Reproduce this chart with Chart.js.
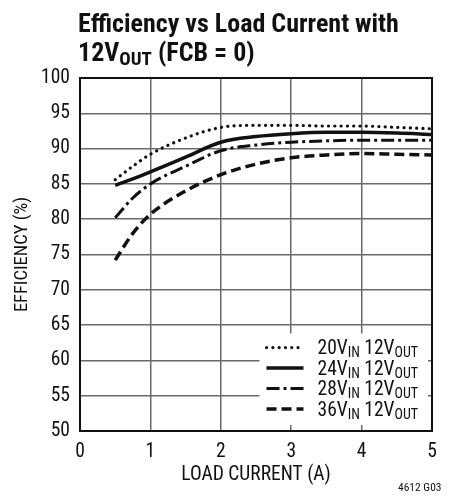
<!DOCTYPE html>
<html>
<head>
<meta charset="utf-8">
<script src="https://cdn.jsdelivr.net/npm/chart.js@4.4.1/dist/chart.umd.min.js"></script>
<style>
  html, body { margin: 0; padding: 0; background: #fff; }
  #wrap { position: relative; width: 450px; height: 496px; }
</style>
</head>
<body>
<div id="wrap"><canvas id="c" width="450" height="496"></canvas></div>
<script>
// ---- data ----
const loadCurrent = [0.5, 0.75, 1, 1.5, 2, 2.5, 3, 3.5, 4, 4.5, 5];
const eff20 = [85.6, 87.5, 89.2, 91.5, 93.0, 93.3, 93.3, 93.2, 93.2, 93.0, 92.8];
const eff24 = [84.8, 85.7, 86.7, 88.8, 90.9, 91.7, 92.1, 92.3, 92.3, 92.2, 92.0];
const eff28 = [80.2, 83.0, 85.0, 87.5, 89.7, 90.5, 90.9, 91.1, 91.2, 91.2, 91.2];
const eff36 = [74.2, 78.0, 80.7, 84.0, 86.3, 87.8, 88.7, 89.1, 89.3, 89.2, 89.1];
const seriesVin = ['20', '24', '28', '36'];
const xTicks = [0, 1, 2, 3, 4, 5];
const yTicks = [50, 55, 60, 65, 70, 75, 80, 85, 90, 95, 100];

const FONT = "'Liberation Sans Narrow', 'Roboto Condensed', 'DejaVu Sans Condensed', 'Liberation Sans', sans-serif";
const toPts = ys => loadCurrent.map((x, i) => ({ x: x, y: ys[i] }));

const styles = [
  { dash: [0.1, 6.2], width: 3.2, cap: 'round' },
  { dash: [], width: 3.5, cap: 'butt' },
  { dash: [13, 4, 3, 4], width: 3, cap: 'butt' },
  { dash: [10, 5], width: 3.5, cap: 'butt' }
];
const allSeries = [eff20, eff24, eff28, eff36];

const datasets = allSeries.map((s, i) => ({
  label: seriesVin[i] + 'VIN 12VOUT',
  data: toPts(s),
  borderColor: '#111',
  borderWidth: styles[i].width,
  borderDash: styles[i].dash,
  borderCapStyle: styles[i].cap,
  pointRadius: 0,
  cubicInterpolationMode: 'monotone',
  fill: false
}));

function subText(ctx, x, y, parts) {
  for (const p of parts) {
    ctx.font = p[3] + ' ' + p[1] + 'px ' + FONT;
    ctx.fillText(p[0], x, y + p[2]);
    x += ctx.measureText(p[0]).width;
  }
  return x;
}

const decor = {
  id: 'decor',
  afterDatasetsDraw(chart) {
    const ctx = chart.ctx;
    const a = chart.chartArea;
    const xs = chart.scales.x, ys = chart.scales.y;
    ctx.save();
    const lx0 = xs.getPixelForValue(2.55), lx1 = a.right - 4;
    const ly0 = ys.getPixelForValue(63.8), ly1 = a.bottom - 6;
    ctx.fillStyle = '#fff';
    ctx.fillRect(lx0, ly0, lx1 - lx0, ly1 - ly0);
    ctx.strokeStyle = '#111';
    ctx.lineWidth = 2;
    ctx.setLineDash([]);
    ctx.strokeRect(a.left, a.top, a.right - a.left, a.bottom - a.top);
    ctx.fillStyle = '#111';
    ctx.textBaseline = 'alphabetic';
    for (let i = 0; i < 4; i++) {
      const yc = ly0 + 14 + i * 20.5;
      ctx.beginPath();
      ctx.strokeStyle = '#111';
      ctx.lineWidth = styles[i].width;
      ctx.setLineDash(styles[i].dash);
      ctx.lineCap = styles[i].cap;
      ctx.moveTo(lx0 + 7, yc);
      ctx.lineTo(lx0 + 44, yc);
      ctx.stroke();
      ctx.setLineDash([]);
      ctx.lineCap = 'butt';
      subText(ctx, lx0 + 58, yc + 6.5, [
        [seriesVin[i] + 'V', 19.5, 0, ''], ['IN', 14, 3, ''],
        [' 12V', 19.5, 0, ''], ['OUT', 14, 3, '']
      ]);
    }
    ctx.restore();
  },
  afterDraw(chart) {
    const ctx = chart.ctx;
    ctx.save();
    ctx.fillStyle = '#111';
    ctx.textBaseline = 'alphabetic';
    ctx.textAlign = 'left';
    subText(ctx, 78, 32, [['Efficiency vs Load Current with', 26, 0, 'bold']]);
    subText(ctx, 78, 61, [['12V', 26, 0, 'bold'], ['OUT', 19, 4, 'bold'], [' (FCB = 0)', 26, 0, 'bold']]);
    ctx.font = '11.5px ' + FONT;
    ctx.fillText('4612 G03', 398, 491);
    ctx.restore();
  }
};

new Chart(document.getElementById('c'), {
  type: 'line',
  data: { datasets: datasets },
  plugins: [decor],
  options: {
    responsive: false,
    animation: false,
    layout: { padding: { top: 78, right: 18, left: 0, bottom: 0 } },
    plugins: { legend: { display: false }, title: { display: false }, tooltip: { enabled: false } },
    scales: {
      x: {
        type: 'linear', min: 0, max: 5,
        afterBuildTicks: s => { s.ticks = xTicks.map(v => ({ value: v })); },
        afterFit: s => { s.height = 65; },
        ticks: { color: '#111', font: { family: FONT, size: 19.5 }, padding: 9, maxRotation: 0 },
        grid: { color: '#6a6a6a', lineWidth: 1.5, drawTicks: false },
        border: { display: true, color: '#111', width: 2 },
        title: { display: true, text: 'LOAD CURRENT (A)', color: '#111', font: { family: FONT, size: 19.5 }, padding: { top: 0, bottom: 9 } }
      },
      y: {
        min: 50, max: 100,
        afterBuildTicks: s => { s.ticks = yTicks.map(v => ({ value: v })); },
        afterFit: s => { s.width = 80; },
        ticks: { color: '#111', font: { family: FONT, size: 19.5 }, padding: 10 },
        grid: { color: '#6a6a6a', lineWidth: 1.5, drawTicks: false },
        border: { display: true, color: '#111', width: 2 },
        title: { display: true, text: 'EFFICIENCY (%)', color: '#111', font: { family: FONT, size: 18.5 }, padding: { top: 11, bottom: 0 } }
      }
    }
  }
});
</script>
</body>
</html>
